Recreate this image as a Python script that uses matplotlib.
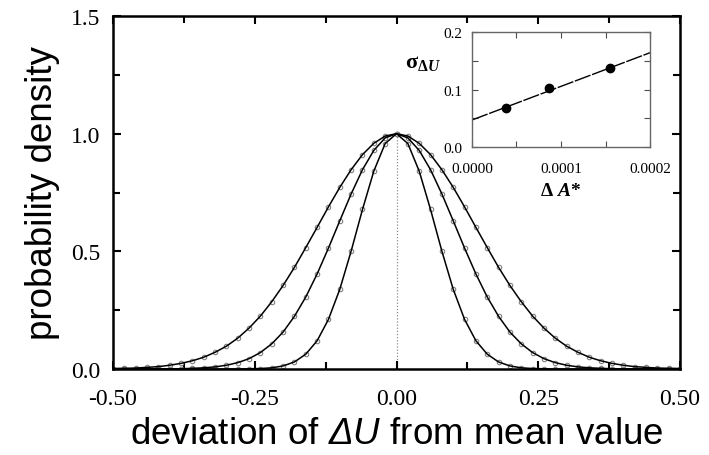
import numpy as np
import matplotlib
matplotlib.use("Agg")
import matplotlib.pyplot as plt
from matplotlib.ticker import MultipleLocator, FormatStrFormatter

plt.rcParams["axes.unicode_minus"] = False
plt.rcParams["mathtext.fontset"] = "custom"
plt.rcParams["mathtext.rm"] = "Liberation Serif:bold"
plt.rcParams["mathtext.bf"] = "Liberation Serif:bold"
plt.rcParams["mathtext.it"] = "Liberation Serif:italic:bold"
plt.rcParams["mathtext.sf"] = "Liberation Sans:italic"

# deviation of dU from mean value (sample grid)
dev = [-0.50, -0.48, -0.46, -0.44, -0.42, -0.40, -0.38, -0.36, -0.34, -0.32,
       -0.30, -0.28, -0.26, -0.24, -0.22, -0.20, -0.18, -0.16, -0.14, -0.12,
       -0.10, -0.08, -0.06, -0.04, -0.02, 0.00, 0.02, 0.04, 0.06, 0.08,
       0.10, 0.12, 0.14, 0.16, 0.18, 0.20, 0.22, 0.24, 0.26, 0.28,
       0.30, 0.32, 0.34, 0.36, 0.38, 0.40, 0.42, 0.44, 0.46, 0.48, 0.50]

# probability density, narrow / middle / wide distributions
dens_narrow = [0.000, 0.000, 0.000, 0.000, 0.000, 0.000, 0.000, 0.000, 0.000, 0.000,
               0.000, 0.000, 0.001, 0.002, 0.005, 0.013, 0.030, 0.063, 0.120, 0.211,
               0.339, 0.501, 0.678, 0.841, 0.958, 1.000, 0.958, 0.841, 0.678, 0.501,
               0.339, 0.211, 0.120, 0.063, 0.030, 0.013, 0.005, 0.002, 0.001, 0.000,
               0.000, 0.000, 0.000, 0.000, 0.000, 0.000, 0.000, 0.000, 0.000, 0.000, 0.000]
dens_mid = [0.000, 0.000, 0.000, 0.000, 0.000, 0.000, 0.001, 0.003, 0.005, 0.009,
            0.016, 0.027, 0.044, 0.070, 0.107, 0.157, 0.224, 0.306, 0.404, 0.514,
            0.630, 0.744, 0.847, 0.929, 0.982, 1.000, 0.982, 0.929, 0.847, 0.744,
            0.630, 0.514, 0.404, 0.306, 0.224, 0.157, 0.107, 0.070, 0.044, 0.027,
            0.016, 0.009, 0.005, 0.003, 0.001, 0.000, 0.000, 0.000, 0.000, 0.000, 0.000]
dens_wide = [0.002, 0.003, 0.004, 0.007, 0.010, 0.016, 0.024, 0.035, 0.050, 0.071,
             0.097, 0.131, 0.174, 0.225, 0.286, 0.355, 0.432, 0.516, 0.602, 0.689,
             0.772, 0.847, 0.911, 0.959, 0.990, 1.000, 0.990, 0.959, 0.911, 0.847,
             0.772, 0.689, 0.602, 0.516, 0.432, 0.355, 0.286, 0.225, 0.174, 0.131,
             0.097, 0.071, 0.050, 0.035, 0.024, 0.016, 0.010, 0.007, 0.004, 0.003, 0.002]

# inset: sigma of dU against dA*
inset_dA = [0.0000379, 0.0000869, 0.000155]
inset_sigma = [0.068, 0.102, 0.137]
fit_dA = [0.0, 0.0002]
fit_sigma = [0.047, 0.164]

serif = "Liberation Serif"
sans = "Liberation Sans"

fig = plt.figure(figsize=(7.09, 4.56), dpi=100)
ax = fig.add_axes([0.1594, 0.1886, 0.7997, 0.7741])

ax.plot([0, 0], [0, 1.0], color="0.55", lw=0.9, ls=(0, (1, 1.5)), zorder=1)
for dens in (dens_wide, dens_mid, dens_narrow):
    ax.plot(dev, dens, ls="none", marker="o", ms=3.2, mfc="white", mec="0.5",
            mew=0.8, zorder=2)
    ax.plot(dev, dens, color="black", lw=1.1, zorder=3)

ax.set_xlim(-0.5, 0.5)
ax.set_ylim(0, 1.5)
ax.xaxis.set_major_locator(MultipleLocator(0.25))
ax.xaxis.set_minor_locator(MultipleLocator(0.125))
ax.yaxis.set_major_locator(MultipleLocator(0.5))
ax.yaxis.set_minor_locator(MultipleLocator(0.25))
ax.xaxis.set_major_formatter(FormatStrFormatter("%.2f"))
ax.yaxis.set_major_formatter(FormatStrFormatter("%.1f"))
ax.tick_params(which="both", direction="in", top=True, right=True, width=1.5)
ax.tick_params(which="major", length=6)
ax.tick_params(which="minor", length=5)
ax.tick_params(axis="x", pad=14)
ax.tick_params(axis="y", pad=9)
for lab in ax.get_xticklabels() + ax.get_yticklabels():
    lab.set_fontfamily(serif)
    lab.set_fontsize(17)
for sp in ax.spines.values():
    sp.set_linewidth(1.8)

ax.set_xlabel(r"deviation of $\mathsf{ΔU}$ from mean value", fontsize=26.5,
              fontfamily=sans, labelpad=5)
ax.set_ylabel("probability density", fontsize=26.5, fontfamily=sans, labelpad=8)

# inset
axi = fig.add_axes([0.6657, 0.6754, 0.2511, 0.2522])
axi.plot(fit_dA, fit_sigma, color="black", lw=1.0, ls=(0, (12, 1.2)))
axi.plot(inset_dA, inset_sigma, ls="none", marker="o", ms=6, color="black")
axi.set_xlim(0, 0.0002)
axi.set_ylim(0, 0.2)
axi.xaxis.set_major_locator(MultipleLocator(0.0001))
axi.xaxis.set_minor_locator(MultipleLocator(0.00005))
axi.yaxis.set_major_locator(MultipleLocator(0.1))
axi.yaxis.set_minor_locator(MultipleLocator(0.05))
axi.xaxis.set_major_formatter(FormatStrFormatter("%.4f"))
axi.yaxis.set_major_formatter(FormatStrFormatter("%.1f"))
axi.tick_params(which="both", direction="in", top=True, right=True, width=0.8,
                color="0.3")
axi.tick_params(axis="x", pad=11)
axi.tick_params(axis="y", pad=7)
axi.tick_params(which="major", length=4)
axi.tick_params(which="minor", length=4)
for lab in axi.get_xticklabels() + axi.get_yticklabels():
    lab.set_fontfamily(serif)
    lab.set_fontsize(11)
for sp in axi.spines.values():
    sp.set_linewidth(1.0)
    sp.set_color("0.4")
axi.set_xlabel(r"$\mathbf{Δ}$ $\mathit{A}$*", fontsize=14, fontfamily=serif,
               fontweight="bold", labelpad=5)
axi.text(-0.275, 0.74, r"$\mathbf{σ}_{\mathbf{Δ}\mathit{U}}$",
         transform=axi.transAxes, fontsize=16, ha="center", va="center")

fig.savefig("out.png", dpi=100)
